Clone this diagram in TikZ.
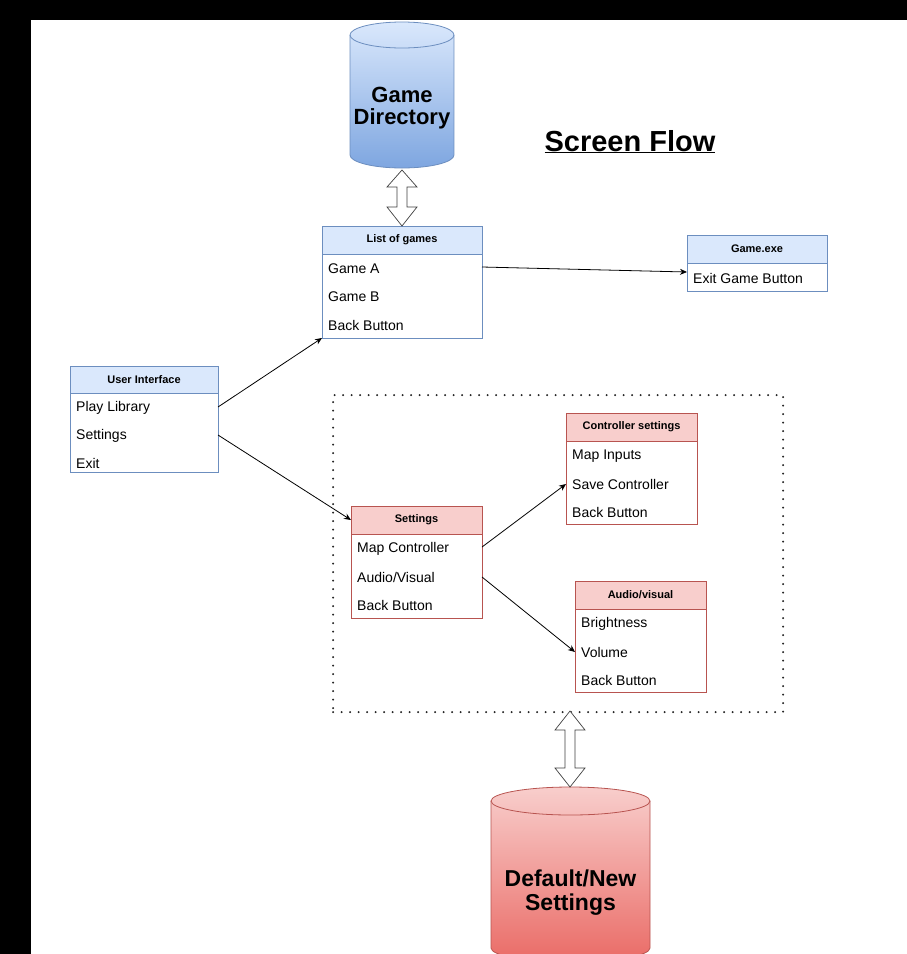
\documentclass[tikz,border=0pt]{standalone}
\usepackage{fontspec}
\setmainfont{Liberation Sans}
\usetikzlibrary{arrows.meta,calc}
\definecolor{bfill}{HTML}{DAE8FC}
\definecolor{bline}{HTML}{6C8EBF}
\definecolor{rfill}{HTML}{F8CECC}
\definecolor{rline}{HTML}{B85450}
\definecolor{blueTop}{HTML}{DAE8FC}
\definecolor{blueBot}{HTML}{7EA6E0}
\definecolor{redTop}{HTML}{F8CECC}
\definecolor{redBot}{HTML}{EA6B66}
\tikzset{
  hdr/.style={rectangle, draw=#1, anchor=north west, inner sep=0pt, outer sep=0pt,
    minimum height=28pt, font=\fontsize{11}{13}\selectfont\bfseries, line width=0.8pt},
  bodybox/.style={rectangle, draw=#1, fill=white, anchor=north west, inner sep=0pt, outer sep=0pt, line width=0.8pt},
  row/.style={anchor=west, inner sep=0pt, font=\fontsize{14}{16}\selectfont},
  flow/.style={-{Stealth[length=7pt,width=6pt]}, line width=0.8pt, black},
  dblarrow/.style={draw=black!75, fill=white, line width=0.7pt, line join=miter},
  dbtext/.style={align=center, inner sep=0pt, font=\bfseries}
}
\begin{document}
\begin{tikzpicture}[x=1pt,y=-1pt]
\useasboundingbox (0,0) rectangle (907,954);
\clip (0,0) rectangle (907,954);
\fill[white] (0,0) rectangle (907,954);
\fill[black] (0,0) rectangle (907,20);
\fill[black] (0,0) rectangle (31,954);

% Game Directory cylinder
\shade[top color=blueTop, bottom color=blueBot] (350,35) -- (350,155)
  arc[start angle=180,end angle=0,x radius=52,y radius=13] -- (454,35)
  arc[start angle=0,end angle=-180,x radius=52,y radius=13] -- cycle;
\draw[bline, line width=0.8pt] (350,35) -- (350,155)
  arc[start angle=180,end angle=0,x radius=52,y radius=13] -- (454,35)
  arc[start angle=0,end angle=-180,x radius=52,y radius=13] -- cycle;
\draw[bline, line width=0.8pt] (350,35) arc[start angle=180,end angle=0,x radius=52,y radius=13];
\node (gamedir) [dbtext, font=\fontsize{22}{22}\selectfont\bfseries] at (402,108) {Game\\Directory};
\coordinate (dirbot) at (402,170);

% Title
\node (title) [anchor=base, inner sep=0pt, font=\fontsize{29}{32}\selectfont\bfseries] at (630,151) {\underline{Screen Flow}};

% List of games
\node (listh) [hdr=bline, fill=bfill, minimum width=160pt] at (322,226) {List of games};
\node (listb) [bodybox=bline, minimum width=160pt, minimum height=84pt] at (322,254) {};
\node (gA) [row] at (328,269) {Game A};
\node (gB) [row] at (328,297) {Game B};
\node (gBack) [row] at (328,325) {Back Button};

% Game.exe
\node (exeh) [hdr=bline, fill=bfill, minimum width=140pt] at (687,235) {Game.exe};
\node (exeb) [bodybox=bline, minimum width=140pt, minimum height=28pt] at (687,263) {};
\node (exit) [row] at (693,278) {Exit Game Button};

% User Interface
\node (uih) [hdr=bline, fill=bfill, minimum width=148pt, minimum height=27pt] at (70,366) {User Interface};
\node (uib) [bodybox=bline, minimum width=148pt, minimum height=79pt] at (70,393) {};
\node (ui1) [row] at (76,408) {Play Library};
\node (ui2) [row] at (76,436) {Settings};
\node (ui3) [row] at (76,463) {Exit};

% Dotted group
\node (grp) [draw=black!85, line width=2.2pt, dash pattern=on 0pt off 8.5pt, line cap=round,
  anchor=north west, minimum width=450pt, minimum height=317pt, inner sep=0pt] at (332,394) {};
\coordinate (grpbot) at (570,711);

% Settings
\node (seth) [hdr=rline, fill=rfill, minimum width=131pt] at (351,506) {Settings};
\node (setb) [bodybox=rline, minimum width=131pt, minimum height=84pt] at (351,534) {};
\node (s1) [row] at (357,549) {Map Controller};
\node (s2) [row] at (357,577) {Audio/Visual};
\node (s3) [row] at (357,605) {Back Button};

% Controller settings
\node (ctrh) [hdr=rline, fill=rfill, minimum width=131pt] at (566,413) {Controller settings};
\node (ctrb) [bodybox=rline, minimum width=131pt, minimum height=83pt] at (566,441) {};
\node (c1) [row] at (572,456) {Map Inputs};
\node (c2) [row] at (572,484) {Save Controller};
\node (c3) [row] at (572,512) {Back Button};

% Audio/visual
\node (avh) [hdr=rline, fill=rfill, minimum width=131pt] at (575,581) {Audio/visual};
\node (avb) [bodybox=rline, minimum width=131pt, minimum height=83pt] at (575,609) {};
\node (a1) [row] at (581,624) {Brightness};
\node (a2) [row] at (581,652) {Volume};
\node (a3) [row] at (581,680) {Back Button};

% Default/New Settings cylinder
\shade[top color=redTop, bottom color=redBot] (491,801) -- (491,948)
  arc[start angle=180,end angle=0,x radius=79.5,y radius=14] -- (650,801)
  arc[start angle=0,end angle=-180,x radius=79.5,y radius=14] -- cycle;
\draw[rline, line width=0.8pt] (491,801) -- (491,948)
  arc[start angle=180,end angle=0,x radius=79.5,y radius=14] -- (650,801)
  arc[start angle=0,end angle=-180,x radius=79.5,y radius=14] -- cycle;
\draw[rline, line width=0.8pt] (491,801) arc[start angle=180,end angle=0,x radius=79.5,y radius=14];
\node (dbset) [dbtext, font=\fontsize{23}{24}\selectfont\bfseries] at (570.5,893) {Default/New\\Settings};
\coordinate (dbtop) at (570,787);

% double arrows
\draw[dblarrow] (dirbot) -- ++(15,17) -- ++(-10,0) -- ++(0,20) -- ++(10,0) -- (listh.north)
  -- ++(-15,-19) -- ++(10,0) -- ++(0,-20) -- ++(-10,0) -- cycle;
\draw[dblarrow] (grpbot) -- ++(15,19) -- ++(-10,0) -- ++(0,38) -- ++(10,0) -- (dbtop)
  -- ++(-15,-19) -- ++(10,0) -- ++(0,-38) -- ++(-10,0) -- cycle;

% flow arrows
\draw[flow] ($(listb.east |- gA)+(0,-2)$) -- ($(exeb.west)+(0,-5)$);
\draw[flow] ($(uib.east |- ui1)+(0,-1)$) -- (listb.south west);
\draw[flow] ($(uib.east |- ui2)+(0,-1)$) -- (seth.west);
\draw[flow] ($(setb.east |- s1)+(0,-2)$) -- (ctrb.west |- c2);
\draw[flow] (setb.east |- s2) -- (avb.west |- a2);
\end{tikzpicture}
\end{document}
